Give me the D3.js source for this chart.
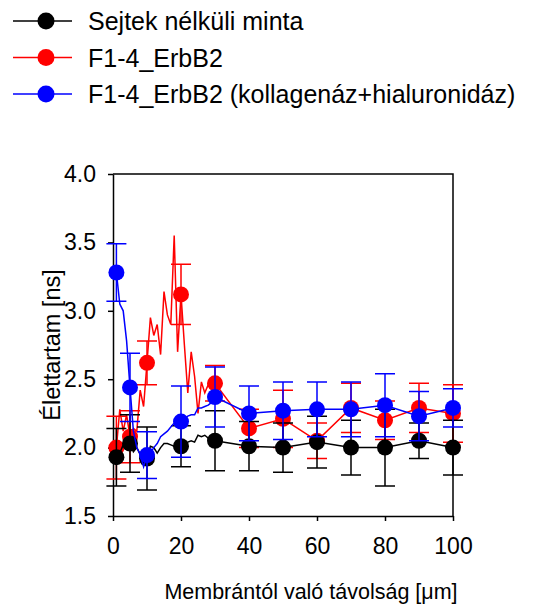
<!DOCTYPE html>
<html>
<head>
<meta charset="utf-8">
<script src="https://cdn.jsdelivr.net/npm/d3@7"></script>
<style>
  html, body { margin: 0; padding: 0; background: #fff; }
  svg { display: block; font-family: "Liberation Sans", Arial, sans-serif; }
</style>
</head>
<body>
<svg id="chart" width="544" height="610"></svg>
<script>
const seriesNames = ["Sejtek nélküli minta", "F1-4_ErbB2", "F1-4_ErbB2 (kollagenáz+hialuronidáz)"];

// marker positions (µm) with mean and error
const markerX = [1, 5, 10, 20, 30, 40, 50, 60, 70, 80, 90, 100];
const blackMean = [1.93, 2.03, 1.92, 2.01, 2.05, 2.01, 2.0, 2.04, 2.0, 2.0, 2.05, 2.0];
const blackErr = [0.21, 0.21, 0.23, 0.15, 0.22, 0.18, 0.18, 0.19, 0.2, 0.28, 0.13, 0.2];
const redMean = [2.0, 2.08, 2.62, 3.12, 2.47, 2.14, 2.21, 2.05, 2.29, 2.2, 2.29, 2.25];
const redErr = [0.23, 0.19, 0.16, 0.22, 0.13, 0.14, 0.21, 0.13, 0.18, 0.14, 0.18, 0.21];
const blueMean = [3.28, 2.44, 1.945, 2.19, 2.37, 2.25, 2.27, 2.28, 2.28, 2.31, 2.23, 2.29];
const blueErr = [0.21, 0.25, 0.17, 0.26, 0.22, 0.2, 0.21, 0.2, 0.2, 0.23, 0.18, 0.14];

// fine-resolution curve near the membrane (1..30 µm)
const denseX = [1, 2, 3, 4, 5, 6, 7, 8, 9, 10, 11, 12, 13, 14, 15, 16, 17, 18, 19, 20, 21, 22, 23, 24, 25, 26, 27, 28, 29, 30];
const blackDense = [1.93, 1.96, 2.02, 2.03, 2.03, 1.97, 2.0, 1.95, 1.9, 1.92, 2.01, 2.0, 1.96, 2.0, 2.03, 2.03, 2.02, 2.01, 2.0, 2.01, 2.02, 2.04, 2.05, 2.04, 2.09, 2.08, 2.09, 2.07, 2.06, 2.05];
const redDense = [2.0, 2.28, 2.12, 2.24, 2.08, 2.14, 2.12, 2.42, 2.3, 2.62, 2.95, 2.82, 2.9, 2.68, 3.14, 2.97, 2.9, 3.55, 2.7, 3.12, 2.75, 2.4, 2.7, 2.52, 2.25, 2.48, 2.4, 2.46, 2.45, 2.47];
const blueDense = [3.28, 3.05, 3.0, 2.78, 2.44, 2.12, 2.0, 1.95, 1.86, 1.945, 1.96, 2.0, 2.03, 2.08, 2.1, 2.12, 2.15, 2.18, 2.2, 2.19, 2.2, 2.23, 2.24, 2.24, 2.29, 2.29, 2.3, 2.31, 2.33, 2.37];

const xTicks = [0, 20, 40, 60, 80, 100];
const yTicks = [1.5, 2.0, 2.5, 3.0, 3.5, 4.0];

const svg = d3.select("#chart");
const plot = { left: 113, right: 453, top: 174, bottom: 516 };

const x = d3.scaleLinear().domain([0, 100]).range([plot.left, plot.right]);
const y = d3.scaleLinear().domain([1.5, 4.0]).range([plot.bottom, plot.top]);

const series = [
  { name: seriesNames[1], color: "#ff0000", mean: redMean, err: redErr, dense: redDense },
  { name: seriesNames[0], color: "#000000", mean: blackMean, err: blackErr, dense: blackDense },
  { name: seriesNames[2], color: "#0000ff", mean: blueMean, err: blueErr, dense: blueDense },
];

const line = d3.line().x((d) => x(d.x)).y((d) => y(d.v));

// axes
const xAxis = svg.append("g")
  .attr("transform", `translate(0,${plot.bottom})`)
  .call(d3.axisBottom(x).tickValues(xTicks).tickSize(5).tickSizeOuter(0).tickPadding(17));

const yAxis = svg.append("g")
  .attr("transform", `translate(${plot.left},0)`)
  .call(d3.axisLeft(y).tickValues(yTicks).tickFormat(d3.format(".1f")).tickSize(5).tickSizeOuter(0).tickPadding(12));

[xAxis, yAxis].forEach((g) => {
  g.selectAll("path, line").attr("stroke", "#000").attr("stroke-width", 1.5);
  g.selectAll("text").attr("font-size", 23).attr("fill", "#000")
    .attr("font-family", "'Liberation Sans', Arial, sans-serif");
});

// frame top + right
svg.append("path")
  .attr("d", `M${plot.left},${plot.top}H${plot.right}V${plot.bottom}`)
  .attr("fill", "none")
  .attr("stroke", "#000")
  .attr("stroke-width", 1.5);

// series
for (const s of series) {
  const pts = denseX.map((d, i) => ({ x: d, v: s.dense[i] }))
    .concat(markerX.map((d, i) => ({ x: d, v: s.mean[i] })).filter((p) => p.x > 30));

  const g = svg.append("g");

  g.append("path")
    .datum(pts)
    .attr("fill", "none")
    .attr("stroke", s.color)
    .attr("stroke-width", 1.5)
    .attr("d", line);

  const marks = markerX.map((d, i) => ({ x: d, v: s.mean[i], e: s.err[i] }));

  g.selectAll(".err")
    .data(marks)
    .join("path")
    .attr("fill", "none")
    .attr("stroke", s.color)
    .attr("stroke-width", 1.5)
    .attr("d", (d) => {
      const cx = x(d.x);
      const y1 = y(d.v + d.e);
      const y2 = y(d.v - d.e);
      return `M${cx},${y1}V${y2}M${cx - 10},${y1}H${cx + 10}M${cx - 10},${y2}H${cx + 10}`;
    });

  g.selectAll("circle")
    .data(marks)
    .join("circle")
    .attr("cx", (d) => x(d.x))
    .attr("cy", (d) => y(d.v))
    .attr("r", 8)
    .attr("fill", s.color);
}

// axis titles
svg.append("text")
  .attr("x", 311)
  .attr("y", 599)
  .attr("text-anchor", "middle")
  .attr("font-size", 21.5)
  .attr("fill", "#000")
  .text("Membrántól való távolság [μm]");

svg.append("text")
  .attr("transform", `translate(60,${(plot.top + plot.bottom) / 2}) rotate(-90)`)
  .attr("text-anchor", "middle")
  .attr("font-size", 23.5)
  .attr("fill", "#000")
  .text("Élettartam [ns]");

// legend
const legendOrder = [
  { name: seriesNames[0], color: "#000000" },
  { name: seriesNames[1], color: "#ff0000" },
  { name: seriesNames[2], color: "#0000ff" },
];

const legend = svg.append("g")
  .selectAll("g")
  .data(legendOrder)
  .join("g")
  .attr("transform", (d, i) => `translate(0,${21 + i * 36.5})`);

legend.append("line")
  .attr("x1", 13).attr("x2", 72)
  .attr("stroke", (d) => d.color)
  .attr("stroke-width", 1.5);

legend.append("circle")
  .attr("cx", 46).attr("r", 8.5)
  .attr("fill", (d) => d.color);

legend.append("text")
  .attr("x", 88)
  .attr("y", 9)
  .attr("font-size", 25)
  .attr("fill", "#000")
  .text((d) => d.name);
</script>
</body>
</html>
